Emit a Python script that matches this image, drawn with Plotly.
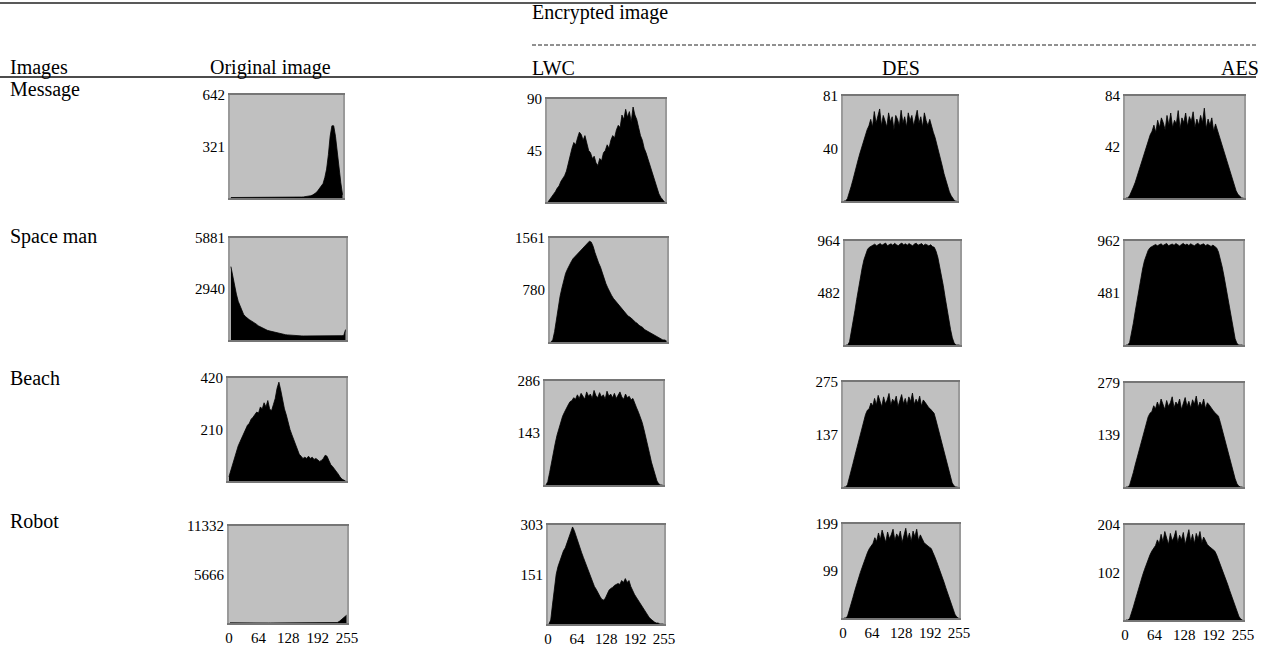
import plotly.graph_objects as go

# ---------------- data ----------------
images = ["Message", "Space man", "Beach", "Robot"]
columns = ["Original image", "LWC", "DES", "AES"]
x_tick_vals = [0, 64, 128, 192, 255]
x_tick_labels = ["0", "64", "128", "192", "255"]

y_max = [[642, 90, 81, 84],
         [5881, 1561, 964, 962],
         [420, 286, 275, 279],
         [11332, 303, 199, 204]]
y_mid = [[321, 45, 40, 42],
         [2940, 780, 482, 481],
         [210, 143, 137, 139],
         [5666, 151, 99, 102]]

# histogram counts, 64 bins of 4 grey levels each
msg_orig = [3, 3, 2, 3, 3, 2, 3, 3, 3, 2, 3, 3, 2, 3, 3, 3, 2, 3, 3, 2, 3, 3,
            3, 2, 3, 3, 2, 3, 3, 3, 2, 3, 3, 2, 3, 4, 4, 5, 5, 6, 6, 7, 8, 9,
            10, 14, 18, 24, 32, 45, 58, 70, 90, 128, 180, 270, 385, 450, 450,
            385, 270, 193, 96, 20]
msg_lwc = [0, 2, 4, 6, 9, 12, 14, 18, 20, 23, 27, 34, 40, 47, 52, 50, 56, 61,
           59, 54, 58, 50, 45, 43, 38, 40, 34, 32, 38, 36, 43, 45, 50, 47, 54,
           58, 56, 63, 67, 65, 76, 72, 81, 74, 79, 70, 83, 76, 72, 65, 58, 54,
           47, 43, 38, 32, 27, 22, 16, 11, 7, 4, 2, 0]
msg_des = [0, 0, 2, 6, 11, 16, 22, 27, 32, 37, 42, 47, 50, 55, 58, 63, 57, 69,
           60, 65, 71, 58, 66, 62, 57, 68, 61, 65, 55, 66, 63, 58, 70, 60, 65,
           57, 68, 62, 66, 58, 63, 70, 60, 65, 57, 68, 62, 58, 63, 57, 53, 49,
           44, 38, 32, 27, 21, 16, 11, 7, 4, 2, 0, 0]
msg_aes = [0, 0, 2, 5, 9, 13, 18, 23, 28, 33, 38, 43, 48, 52, 55, 60, 54, 64,
           58, 66, 62, 56, 68, 60, 70, 58, 64, 61, 72, 57, 66, 62, 70, 59, 67,
           63, 71, 58, 65, 60, 68, 62, 74, 57, 65, 60, 66, 55, 61, 56, 52, 47,
           42, 37, 31, 26, 20, 15, 10, 6, 3, 1, 0, 0]

sm_orig = [4234, 3646, 3235, 2646, 2235, 1941, 1647, 1470, 1353, 1235, 1176,
           1117, 1059, 1000, 912, 823, 765, 706, 647, 588, 559, 529, 500, 470,
           441, 412, 388, 365, 341, 323, 306, 294, 282, 270, 259, 247, 240,
           238, 236, 235, 233, 232, 230, 230, 229, 228, 228, 227, 226, 226,
           225, 225, 226, 227, 228, 230, 232, 234, 236, 240, 245, 250, 260,
           600]
sm_lwc = [0, 31, 156, 343, 531, 687, 812, 937, 1030, 1093, 1155, 1202, 1249,
          1280, 1311, 1342, 1374, 1405, 1436, 1452, 1483, 1514, 1499, 1436,
          1342, 1249, 1186, 1124, 1030, 952, 874, 812, 749, 702, 656, 624,
          593, 562, 531, 484, 453, 421, 390, 375, 343, 328, 297, 281, 250,
          234, 219, 187, 172, 156, 140, 125, 109, 94, 78, 62, 47, 31, 31, 16]
sm_des = [0, 0, 29, 116, 212, 318, 424, 530, 627, 713, 790, 848, 887, 906,
          915, 925, 935, 920, 930, 940, 925, 935, 945, 920, 930, 938, 925,
          942, 930, 920, 935, 945, 928, 938, 925, 940, 930, 920, 936, 944,
          925, 932, 940, 922, 935, 928, 918, 930, 912, 905, 868, 810, 733,
          646, 549, 443, 337, 241, 145, 67, 19, 0, 0, 0]
sm_aes = [0, 0, 24, 106, 202, 308, 414, 520, 616, 703, 779, 837, 875, 900,
          910, 922, 930, 918, 928, 936, 920, 932, 940, 918, 926, 934, 922,
          938, 928, 916, 930, 940, 924, 934, 920, 936, 926, 918, 932, 940,
          922, 928, 936, 918, 930, 922, 912, 924, 906, 898, 860, 800, 722,
          635, 539, 433, 327, 231, 135, 58, 14, 0, 0, 0]

beach_orig = [17, 42, 67, 92, 126, 143, 160, 176, 193, 210, 227, 235, 252,
              260, 269, 281, 277, 302, 294, 319, 302, 328, 294, 286, 311, 336,
              378, 403, 370, 328, 294, 269, 235, 210, 189, 168, 147, 126, 109,
              101, 92, 97, 92, 101, 92, 97, 88, 92, 84, 80, 84, 92, 105, 101,
              84, 67, 59, 50, 42, 29, 17, 8, 4, 0]
beach_lwc = [0, 9, 34, 63, 92, 114, 137, 157, 174, 189, 200, 212, 220, 229,
             232, 240, 236, 248, 238, 252, 242, 236, 256, 244, 250, 238, 260,
             246, 240, 254, 242, 248, 236, 258, 244, 250, 240, 252, 238, 246,
             256, 242, 236, 250, 240, 244, 234, 238, 223, 212, 200, 186, 172,
             152, 132, 109, 86, 63, 43, 23, 11, 3, 0, 0]
beach_des = [0, 0, 6, 22, 41, 61, 80, 99, 118, 138, 157, 173, 190, 201, 205,
             220, 212, 232, 215, 240, 222, 210, 236, 218, 228, 245, 214, 230,
             222, 238, 210, 226, 242, 218, 232, 214, 236, 224, 246, 216, 230,
             220, 238, 212, 228, 222, 214, 208, 204, 198, 193, 176, 157, 138,
             118, 99, 80, 61, 41, 25, 11, 3, 0, 0]
beach_aes = [0, 0, 5, 20, 39, 59, 78, 98, 117, 137, 156, 172, 188, 198, 202,
             218, 210, 228, 214, 236, 220, 208, 232, 216, 226, 242, 212, 228,
             220, 236, 208, 224, 240, 216, 230, 212, 234, 222, 244, 214, 228,
             218, 236, 210, 226, 220, 212, 206, 200, 195, 190, 173, 154, 135,
             115, 96, 77, 57, 38, 22, 9, 2, 0, 0]

robot_orig = [20, 15, 12, 10, 10, 9, 8, 8, 8, 7, 7, 7, 6, 6, 6, 6, 6, 5, 5,
              5, 5, 5, 5, 5, 5, 5, 5, 5, 5, 5, 5, 5, 5, 5, 5, 5, 5, 5, 5, 5,
              5, 5, 5, 5, 5, 5, 6, 6, 6, 7, 8, 9, 10, 12, 15, 20, 30, 40, 57,
              170, 340, 510, 680, 906]
robot_lwc = [0, 12, 61, 115, 152, 176, 194, 212, 224, 233, 248, 261, 279, 297,
             285, 267, 248, 233, 218, 203, 188, 173, 158, 142, 127, 115, 106,
             94, 85, 76, 73, 79, 91, 103, 109, 112, 118, 121, 124, 121, 133,
             127, 139, 127, 133, 115, 100, 91, 82, 73, 64, 55, 45, 36, 27, 21,
             15, 9, 6, 3, 3, 0, 0, 0]
robot_des = [0, 0, 4, 16, 30, 44, 58, 72, 84, 96, 107, 119, 129, 139, 147,
             153, 158, 170, 162, 180, 166, 186, 172, 160, 182, 168, 176, 188,
             164, 178, 170, 184, 160, 174, 190, 166, 180, 162, 184, 172, 188,
             164, 176, 168, 160, 156, 152, 150, 147, 139, 129, 119, 109, 100,
             88, 76, 64, 52, 40, 28, 16, 8, 2, 0]
robot_aes = [0, 0, 3, 14, 28, 42, 57, 71, 84, 96, 108, 120, 130, 140, 148,
             154, 160, 172, 164, 184, 168, 190, 174, 162, 186, 170, 178, 192,
             166, 182, 172, 188, 162, 176, 194, 168, 184, 164, 186, 174, 190,
             166, 178, 170, 162, 158, 154, 152, 148, 140, 130, 120, 110, 100,
             88, 76, 64, 52, 40, 28, 16, 8, 2, 0]

hist = [[msg_orig, msg_lwc, msg_des, msg_aes],
        [sm_orig, sm_lwc, sm_des, sm_aes],
        [beach_orig, beach_lwc, beach_des, beach_aes],
        [robot_orig, robot_lwc, robot_des, robot_aes]]
bin_width = 4

# ---------------- layout (pixel boxes: left, right, top, bottom) ----------------
W, H = 1270, 652
boxes = [[(230, 343, 95, 198), (547, 665, 99, 202), (843, 957, 96, 201), (1125, 1244, 96, 198)],
         [(230, 346, 238, 340), (550, 667, 238, 342), (845, 960, 241, 345), (1125, 1243, 241, 345)],
         [(228, 346, 378, 481), (545, 663, 381, 485), (843, 958, 382, 487), (1125, 1243, 383, 487)],
         [(229, 347, 526, 623), (548, 664, 525, 624), (843, 959, 524, 618), (1125, 1243, 525, 620)]]

FONT = "Liberation Serif"
TICK_SIZE = 15
TEXT_SIZE = 20


def px(x):
    return x / W


def py(y):
    return 1 - y / H


fig = go.Figure()
layout = {}
k = 0
for r in range(4):
    for c in range(4):
        k += 1
        sfx = "" if k == 1 else str(k)
        vals = hist[r][c]
        xs = [bin_width * i + bin_width / 2 for i in range(len(vals))]
        fig.add_trace(go.Scatter(x=xs, y=vals, mode="lines", fill="tozeroy",
                                 fillcolor="black", line=dict(color="black", width=0.8),
                                 xaxis="x" + sfx, yaxis="y" + sfx, hoverinfo="skip",
                                 showlegend=False))
        l, rr, t, b = boxes[r][c]
        layout["xaxis" + sfx] = dict(
            domain=[px(l), px(rr)], range=[0, 255], anchor="y" + sfx,
            showgrid=False, zeroline=False, showline=True, mirror=True,
            linecolor="#767676", linewidth=2, ticks="", automargin=False,
            showticklabels=(r == 3), tickvals=x_tick_vals, ticktext=x_tick_labels,
            tickfont=dict(family=FONT, size=TICK_SIZE, color="black"), fixedrange=True)
        layout["yaxis" + sfx] = dict(
            domain=[py(b), py(t)], range=[0, y_max[r][c]], anchor="x" + sfx,
            showgrid=False, zeroline=False, showline=True, mirror=True,
            linecolor="#9a9a9a", linewidth=2, ticks="", automargin=False,
            tickvals=[y_mid[r][c], y_max[r][c]],
            ticktext=[str(y_mid[r][c]), str(y_max[r][c])],
            tickfont=dict(family=FONT, size=TICK_SIZE, color="black"), fixedrange=True)

annots = []


def add_text(text, x, y, anchor="left", size=TEXT_SIZE):
    annots.append(dict(text=text, x=px(x), y=py(y), xref="paper", yref="paper",
                       xanchor=anchor, yanchor="middle", showarrow=False,
                       font=dict(family=FONT, size=size, color="black")))


add_text("Encrypted image", 530, 13)
add_text("Images", 8, 68)
add_text(columns[0], 270, 68, "center")
add_text(columns[1], 530, 68)
add_text(columns[2], 901, 68, "center")
add_text(columns[3], 1240, 68, "center")
row_label_y = [89, 236, 378, 521]
for name, yy in zip(images, row_label_y):
    add_text(name, 8, yy)

shapes = [
    dict(type="line", xref="paper", yref="paper", x0=0, x1=px(1256), y0=py(3), y1=py(3),
         line=dict(color="#222", width=1.5)),
    dict(type="line", xref="paper", yref="paper", x0=px(532), x1=px(1256), y0=py(45), y1=py(45),
         line=dict(color="#222", width=1, dash="4px,2px")),
    dict(type="line", xref="paper", yref="paper", x0=0, x1=px(1256), y0=py(77), y1=py(77),
         line=dict(color="#111", width=1.5)),
]

fig.update_layout(width=W, height=H,
                  margin=dict(l=0, r=0, t=0, b=0, pad=0, autoexpand=False),
                  paper_bgcolor="white", plot_bgcolor="#c0c0c0",
                  showlegend=False, annotations=annots, shapes=shapes, **layout)

pin_js = ("var gd=document.getElementById('{plot_id}');"
          "document.body.style.margin='0';document.body.style.overflow='hidden';"
          "gd.style.position='fixed';gd.style.left='0px';gd.style.top='0px';")
fig.write_html("out.html", post_script=pin_js, config={"displayModeBar": False})
